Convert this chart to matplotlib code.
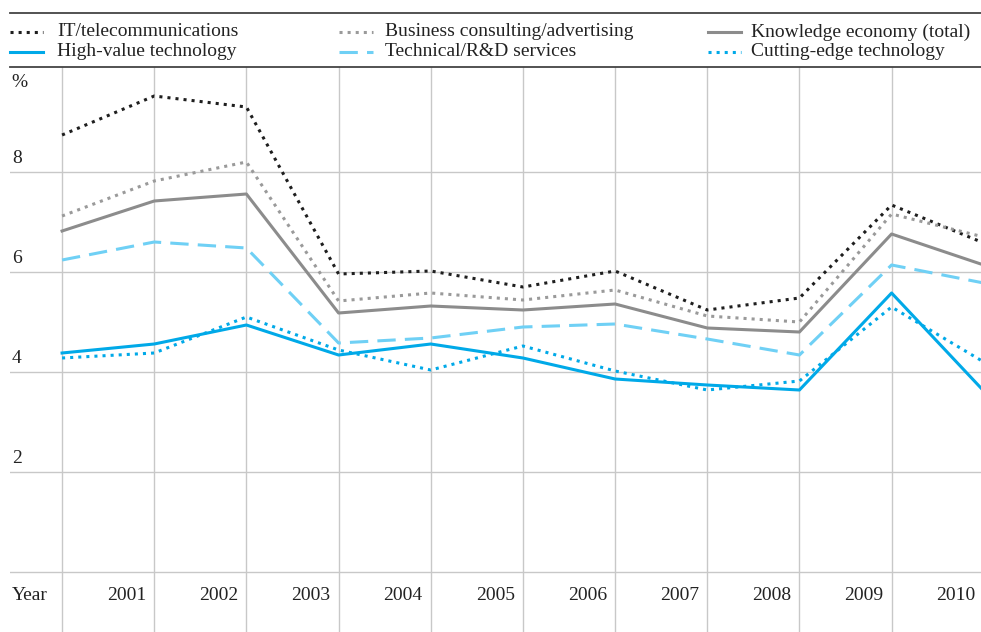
import numpy as np
import matplotlib.pyplot as plt
from matplotlib.lines import Line2D

# Datos (porcentaje), 2000..2010
years = np.arange(2000, 2011)
year_labels = ['Year', '2001', '2002', '2003', '2004', '2005',
               '2006', '2007', '2008', '2009', '2010']

it_telecom = [8.74, 9.52, 9.30, 5.96, 6.02, 5.70, 6.02, 5.24, 5.48, 7.34, 6.58]
business = [7.12, 7.82, 8.20, 5.42, 5.58, 5.44, 5.64, 5.12, 5.00, 7.16, 6.70]
knowledge = [6.82, 7.42, 7.56, 5.18, 5.32, 5.24, 5.36, 4.88, 4.80, 6.76, 6.14]
technical = [6.24, 6.60, 6.48, 4.58, 4.68, 4.90, 4.96, 4.66, 4.34, 6.14, 5.78]
high_value = [4.38, 4.56, 4.94, 4.34, 4.56, 4.28, 3.86, 3.74, 3.64, 5.58, 3.62]
cutting = [4.28, 4.38, 5.10, 4.44, 4.04, 4.52, 4.02, 3.64, 3.82, 5.30, 4.20]

BLUE = '#00a9e8'
LBLUE = '#6fd0f5'
plt.rcParams['font.family'] = ['Liberation Serif', 'DejaVu Serif']
FS = 14

W, H = 981, 632
fig = plt.figure(figsize=(W / 100, H / 100), dpi=100)


def fx(px):
    return px / W


def fy(py):
    return 1 - py / H


ax = fig.add_axes([fx(10), 0, fx(981) - fx(10), fy(67)])
x = np.arange(len(years))
ax.set_xlim(-0.565, 9.97)
ax.set_ylim(-1.2, 10.1)
for s in ax.spines.values():
    s.set_visible(False)
ax.set_xticks([])
ax.set_yticks([])

# rejilla
for yv in [0, 2, 4, 6, 8]:
    ax.axhline(yv, color='#c8c8c8', lw=1.0, zorder=0)
    if yv > 0:
        ax.text(-0.545, yv + 0.1, str(yv), fontsize=FS, color='#222222',
                ha='left', va='bottom')
for xv in x[:-1]:
    ax.axvline(xv, color='#c8c8c8', lw=1.0, zorder=0)
ax.text(-0.545, 9.78, '%', fontsize=FS, color='#222222', ha='left', va='center')

for i, lab in enumerate(year_labels):
    if i == 0:
        ax.text(-0.545, -0.46, lab, fontsize=FS, color='#222222',
                ha='left', va='center')
    else:
        ax.text(i - 0.09, -0.46, lab, fontsize=FS, color='#222222',
                ha='right', va='center')

series = [
    ('IT/telecommunications', it_telecom, dict(color='#1e1e1e', ls=':', lw=2.2)),
    ('High-value technology', high_value, dict(color=BLUE, ls='-', lw=2.2)),
    ('Business consulting/advertising', business, dict(color='#9a9a9a', ls=':', lw=2.2)),
    ('Technical/R&D services', technical, dict(color=LBLUE, ls=(0, (6, 3)), lw=2.2)),
    ('Knowledge economy (total)', knowledge, dict(color='#8c8c8c', ls='-', lw=2.2)),
    ('Cutting-edge technology', cutting, dict(color=BLUE, ls=':', lw=2.2)),
]
draw_order = [0, 2, 4, 3, 5, 1]
for k in draw_order:
    name, vals, st = series[k]
    ax.plot(x, vals, clip_on=True, **st)

# leyenda manual
fig.add_artist(Line2D([fx(10), 1], [fy(13), fy(13)], color='#444444', lw=1.3))
fig.add_artist(Line2D([fx(10), 1], [fy(67), fy(67)], color='#444444', lw=1.3))
col_x = [(10, 43, 57), (339, 373, 385), (708, 741, 751)]
row_y = [32, 52]
for k, (name, vals, st) in enumerate(series):
    c, r = divmod(k, 2)
    x0, x1, xt = col_x[c]
    fig.add_artist(Line2D([fx(x0), fx(x1)], [fy(row_y[r])] * 2, **st))
    fig.text(fx(xt), fy(row_y[r]), name, fontsize=FS, color='#222222',
             ha='left', va='center')

fig.savefig('out.png', dpi=100)
